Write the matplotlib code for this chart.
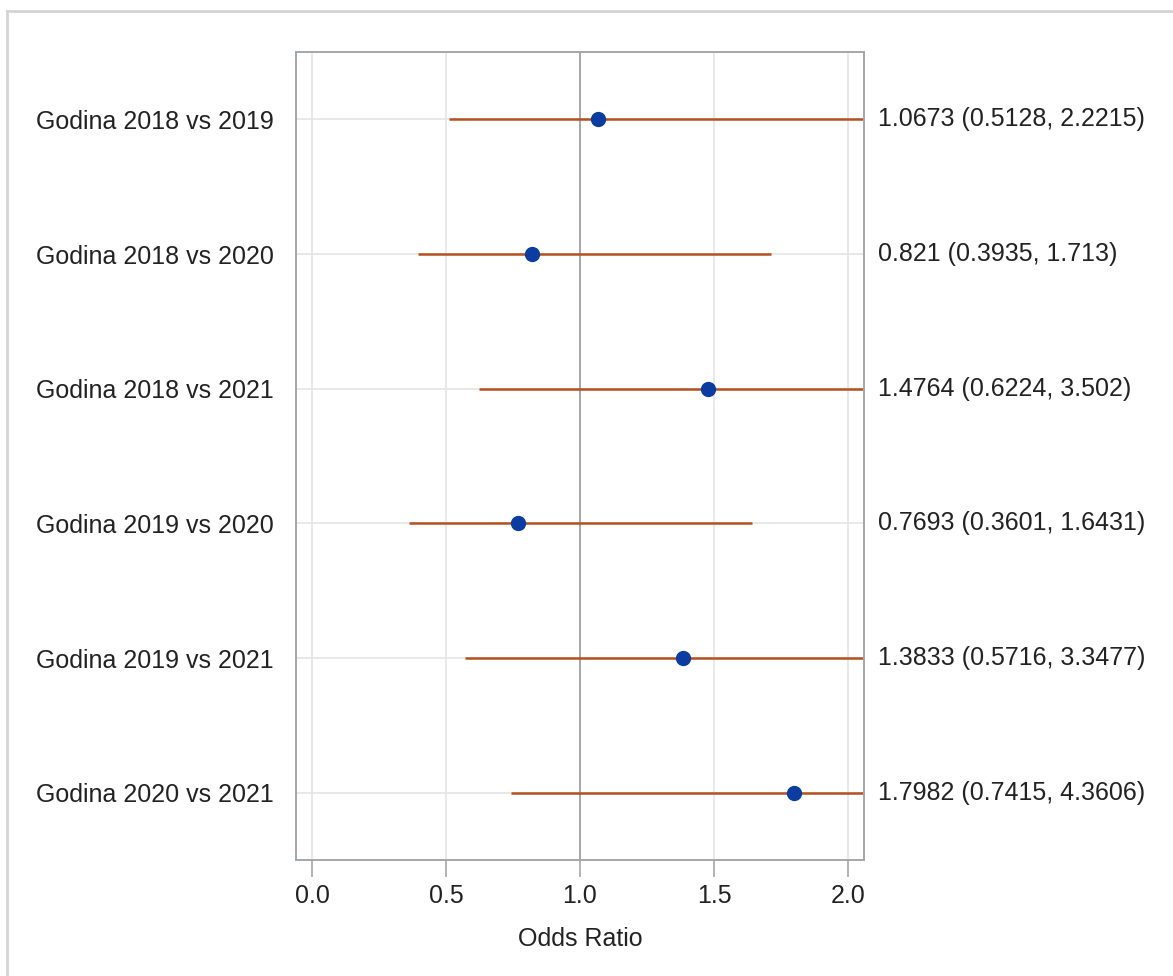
import numpy as np
import matplotlib
matplotlib.use("Agg")
import matplotlib.pyplot as plt
from matplotlib.lines import Line2D

plt.rcParams['font.family'] = ['Liberation Sans', 'DejaVu Sans']

## Daten
labels = ['Godina 2018 vs 2019', 'Godina 2018 vs 2020', 'Godina 2018 vs 2021',
          'Godina 2019 vs 2020', 'Godina 2019 vs 2021', 'Godina 2020 vs 2021']
odds = np.array([1.0673, 0.821, 1.4764, 0.7693, 1.3833, 1.7982])
lower = np.array([0.5128, 0.3935, 0.6224, 0.3601, 0.5716, 0.7415])
upper = np.array([2.2215, 1.713, 3.502, 1.6431, 3.3477, 4.3606])
ci_text = ['1.0673 (0.5128, 2.2215)', '0.821 (0.3935, 1.713)', '1.4764 (0.6224, 3.502)',
           '0.7693 (0.3601, 1.6431)', '1.3833 (0.5716, 3.3477)', '1.7982 (0.7415, 4.3606)']
xticks = [0.0, 0.5, 1.0, 1.5, 2.0]

W, H = 1173, 976
fig = plt.figure(figsize=(W / 100, H / 100), dpi=100)

# Rahmen um das Bild (nur oben und links sichtbar)
fig.add_artist(Line2D([7 / W, 1], [1 - 10.5 / H, 1 - 10.5 / H], color='#d4d4d4', lw=2))
fig.add_artist(Line2D([7 / W, 7 / W], [0, 1 - 10.5 / H], color='#d4d4d4', lw=2))

ax = fig.add_axes([296 / W, 1 - 860 / H, (864 - 296) / W, (860 - 52) / H])

y = np.arange(len(labels))
gray = '#a3a7ab'

for xt in xticks:
    if xt == 1.0:
        continue
    ax.axvline(xt, color='#e4e4e4', lw=1.2, zorder=0)
for yy in y:
    ax.axhline(yy, color='#e4e4e4', lw=1.2, zorder=0)
ax.axvline(1.0, color=gray, lw=1.4, zorder=1)

ax.hlines(y, lower, upper, color='#b4511f', lw=1.8, zorder=2)
ax.plot(odds, y, 'o', color='#0b3c9f', ms=10, zorder=3)

ax.set_xlim(-0.06, 2.06)
ax.set_ylim(len(labels) - 0.5, -0.5)
ax.set_xticks(xticks)
ax.set_xticklabels(['%.1f' % t for t in xticks])
ax.set_yticks(y)
ax.set_yticklabels(labels)
ax.tick_params(axis='y', length=0, pad=16, labelsize=18, labelcolor='#222222')
ax.tick_params(axis='x', length=12, width=1.2, color=gray, pad=5, labelsize=18,
               labelcolor='#222222')
for s in ax.spines.values():
    s.set_color(gray)
    s.set_linewidth(1.4)

ax.set_xlabel('Odds Ratio', fontsize=18, color='#222222', labelpad=14)

for yy, t in zip(y, ci_text):
    ax.annotate(t, xy=(1, yy), xycoords=('axes fraction', 'data'),
                xytext=(14, 0), textcoords='offset pixels',
                ha='left', va='center', fontsize=18, color='#222222')

fig.savefig('out.png', dpi=100)
